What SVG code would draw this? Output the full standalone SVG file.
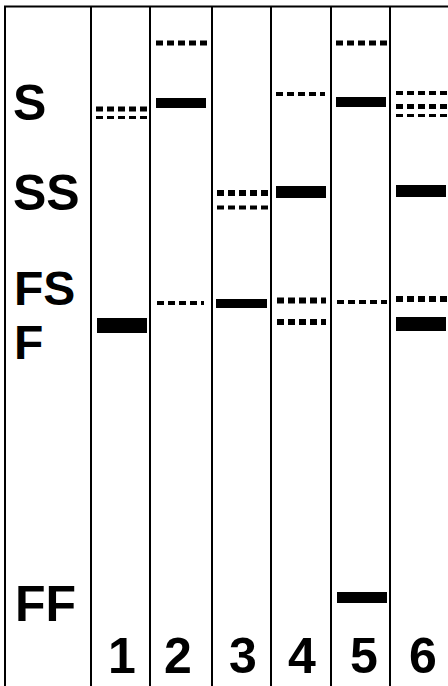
<svg xmlns="http://www.w3.org/2000/svg" width="448" height="686" viewBox="0 0 448 686">
  <style>
    .frame { stroke: #000; stroke-width: 2; fill: none; }
    .band { fill: #000; }
    .dash { stroke: #000; stroke-dasharray: 7 4; fill: none; }
    .lbl { font-family: "Liberation Sans", Arial, Helvetica, sans-serif; font-weight: bold; font-size: 50px; fill: #000; }
    .tight { font-size: 48px; }
    .num { text-anchor: middle; }
  </style>
  <rect width="448" height="686" fill="#fff"/>

  <!-- gel frame: top edge and lane dividers -->
  <g id="frame">
    <line class="frame" x1="4" y1="6.5" x2="448" y2="6.5"/>
    <line class="frame" x1="5" y1="6" x2="5" y2="686"/>
    <line class="frame" x1="91" y1="6" x2="91" y2="686"/>
    <line class="frame" x1="150" y1="6" x2="150" y2="686"/>
    <line class="frame" x1="212" y1="6" x2="212" y2="686"/>
    <line class="frame" x1="271" y1="6" x2="271" y2="686"/>
    <line class="frame" x1="331" y1="6" x2="331" y2="686"/>
    <line class="frame" x1="390" y1="6" x2="390" y2="686"/>
  </g>

  <!-- band position labels -->
  <g id="labels">
    <text class="lbl" x="13" y="120">S</text>
    <text class="lbl" x="13" y="210">SS</text>
    <text class="lbl tight" x="14" y="305">FS</text>
    <text class="lbl tight" x="14" y="359">F</text>
    <text class="lbl" x="15" y="621">FF</text>
  </g>

  <!-- lane 1 -->
  <g id="lane1">
    <line class="dash" x1="96" y1="109" x2="147" y2="109" stroke-width="5"/>
    <line class="dash" x1="96" y1="117.5" x2="147" y2="117.5" stroke-width="3"/>
    <rect class="band" x="97" y="318" width="50" height="15"/>
    <text class="lbl num" x="122" y="673">1</text>
  </g>

  <!-- lane 2 -->
  <g id="lane2">
    <line class="dash" x1="156" y1="43" x2="207" y2="43" stroke-width="5"/>
    <rect class="band" x="156" y="98" width="50" height="10"/>
    <line class="dash" x1="157" y1="303" x2="204" y2="303" stroke-width="4"/>
    <text class="lbl num" x="178" y="673">2</text>
  </g>

  <!-- lane 3 -->
  <g id="lane3">
    <line class="dash" x1="217" y1="193" x2="268" y2="193" stroke-width="6"/>
    <line class="dash" x1="217" y1="207.5" x2="268" y2="207.5" stroke-width="4"/>
    <rect class="band" x="216" y="299" width="51" height="9"/>
    <text class="lbl num" x="243" y="673">3</text>
  </g>

  <!-- lane 4 -->
  <g id="lane4">
    <line class="dash" x1="276" y1="94" x2="325" y2="94" stroke-width="4"/>
    <rect class="band" x="276" y="186" width="50" height="12"/>
    <line class="dash" x1="277" y1="300.5" x2="326" y2="300.5" stroke-width="6"/>
    <line class="dash" x1="277" y1="322" x2="326" y2="322" stroke-width="6"/>
    <text class="lbl num" x="302" y="673">4</text>
  </g>

  <!-- lane 5 -->
  <g id="lane5">
    <line class="dash" x1="336" y1="43" x2="387" y2="43" stroke-width="5"/>
    <rect class="band" x="336" y="97" width="50" height="10"/>
    <line class="dash" x1="337" y1="302" x2="387" y2="302" stroke-width="4"/>
    <rect class="band" x="337" y="592" width="50" height="11"/>
    <text class="lbl num" x="364" y="673">5</text>
  </g>

  <!-- lane 6 -->
  <g id="lane6">
    <line class="dash" x1="396" y1="93" x2="447" y2="93" stroke-width="4"/>
    <line class="dash" x1="396" y1="106.5" x2="447" y2="106.5" stroke-width="5"/>
    <line class="dash" x1="396" y1="115.5" x2="447" y2="115.5" stroke-width="3"/>
    <rect class="band" x="396" y="185" width="50" height="12"/>
    <line class="dash" x1="396" y1="299" x2="447" y2="299" stroke-width="6"/>
    <rect class="band" x="396" y="317" width="50" height="14"/>
    <text class="lbl num" x="423" y="673">6</text>
  </g>
</svg>
